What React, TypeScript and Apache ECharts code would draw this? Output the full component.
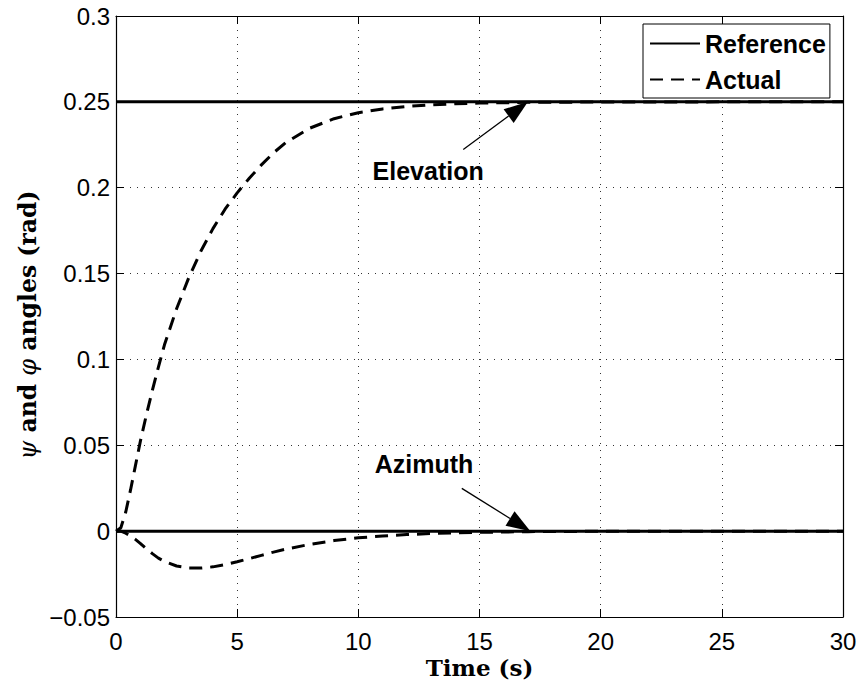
import React, { useEffect, useRef } from "react";
import * as echarts from "echarts";

// Simulation time base (s) shared by the measured responses
const timeSeconds = [
  0, 0.2, 0.4, 0.6, 0.8, 1, 1.25, 1.5, 1.75, 2, 2.5, 3, 3.5, 4, 4.5, 5, 5.5, 6,
  6.5, 7, 8, 9, 10, 11, 12, 13, 14, 15, 16, 17, 18, 20, 25, 30,
];

// Measured elevation angle psi (rad)
const elevationActual = [
  0, 0.002, 0.011, 0.024, 0.038, 0.052, 0.0675, 0.082, 0.0955, 0.1085, 0.1295,
  0.1475, 0.163, 0.1762, 0.1875, 0.197, 0.2055, 0.2133, 0.2203, 0.2262, 0.2347,
  0.2402, 0.2437, 0.2459, 0.2473, 0.2483, 0.2489, 0.2493, 0.2495, 0.2497,
  0.2498, 0.2499, 0.25, 0.25,
];

// Measured azimuth angle phi (rad)
const azimuthActual = [
  0, 0, -0.0012, -0.0028, -0.0048, -0.0071, -0.0102, -0.0131, -0.0157, -0.0177,
  -0.0203, -0.0214, -0.0215, -0.0208, -0.0195, -0.0178, -0.016, -0.0141,
  -0.0122, -0.0105, -0.0077, -0.0055, -0.0039, -0.0028, -0.002, -0.0014,
  -0.001, -0.0007, -0.0005, -0.0003, -0.0002, -0.0001, 0, 0,
];

// Set-points
const referenceTime = [0, 30];
const elevationReference = [0.25, 0.25];
const azimuthReference = [0, 0];

// Callouts: label centre, arrow tail and arrow tip, in data units (s, rad)
const callouts = [
  { label: "Elevation", at: [12.88, 0.2097], from: [14.33, 0.2223], to: [17.0, 0.25] },
  { label: "Azimuth", at: [12.71, 0.0391], from: [14.27, 0.0249], to: [17.1, 0.0] },
];

const SANS = "'Liberation Sans', Arial, Helvetica, sans-serif";
const SERIF = "'DejaVu Serif', 'Liberation Serif', serif";

const pairs = (xs: number[], ys: number[]) => xs.map((x, i) => [x, ys[i]]);

const fmtY = (v: number) => {
  const r = parseFloat(v.toFixed(3));
  return r < 0 ? "\u2212" + String(-r) : String(r);
};

export default function App() {
  const ref = useRef<HTMLDivElement>(null);

  useEffect(() => {
    if (!ref.current) return;
    const chart = echarts.init(ref.current, undefined, { renderer: "svg" });

    const gridSplit = {
      show: true,
      lineStyle: { color: "#333", width: 1, type: [1, 6] as any },
    };
    const tickInside = { show: true, inside: true, length: 8, lineStyle: { color: "#000", width: 1 } };
    const axisLine = { show: true, onZero: false, lineStyle: { color: "#000", width: 1.2 } };

    const solid = { color: "#000", width: 3, type: "solid" as const };
    const dashed = { color: "#000", width: 3, type: [13, 8] as any };

    chart.setOption({
      animation: false,
      backgroundColor: "#fff",
      grid: { left: 116, top: 16, right: 19, bottom: 72, containLabel: false },
      xAxis: [
        {
          type: "value",
          min: 0,
          max: 30,
          interval: 5,
          axisLine,
          axisTick: tickInside,
          splitLine: gridSplit,
          axisLabel: { color: "#000", fontSize: 24, lineHeight: 18, fontFamily: SANS, margin: 15 },
        },
        {
          type: "value",
          position: "top",
          min: 0,
          max: 30,
          interval: 5,
          axisLine,
          axisTick: tickInside,
          splitLine: { show: false },
          axisLabel: { show: false },
        },
      ],
      yAxis: [
        {
          type: "value",
          min: -0.05,
          max: 0.3,
          interval: 0.05,
          axisLine,
          axisTick: tickInside,
          splitLine: gridSplit,
          axisLabel: {
            color: "#000",
            fontSize: 24,
            fontFamily: SANS,
            margin: 6,
            formatter: fmtY,
          },
        },
        {
          type: "value",
          position: "right",
          min: -0.05,
          max: 0.3,
          interval: 0.05,
          axisLine,
          axisTick: tickInside,
          splitLine: { show: false },
          axisLabel: { show: false },
        },
      ],
      legend: {
        data: ["Reference", "Actual"],
        orient: "vertical",
        left: 643,
        top: 24,
        padding: [7, 4, 6, 6],
        itemGap: 11,
        itemWidth: 50,
        itemHeight: 14,
        backgroundColor: "#fff",
        borderColor: "#000",
        borderWidth: 1,
        borderRadius: 0,
        itemStyle: { color: "rgba(0,0,0,0)", borderColor: "rgba(0,0,0,0)", borderWidth: 0, opacity: 0 },
        textStyle: { color: "#000", fontSize: 25, fontWeight: "bold", fontFamily: SANS },
      },
      series: [
        {
          name: "Reference",
          type: "line",
          data: pairs(referenceTime, elevationReference),
          symbol: "none",
          lineStyle: solid,
          itemStyle: { color: "#000" },
        },
        {
          name: "Reference",
          type: "line",
          data: pairs(referenceTime, azimuthReference),
          symbol: "none",
          lineStyle: solid,
          itemStyle: { color: "#000" },
        },
        {
          name: "Actual",
          type: "line",
          data: pairs(timeSeconds, elevationActual),
          symbol: "none",
          lineStyle: dashed,
          itemStyle: { color: "#000" },
        },
        {
          name: "Actual",
          type: "line",
          data: pairs(timeSeconds, azimuthActual),
          symbol: "none",
          lineStyle: dashed,
          itemStyle: { color: "#000" },
        },
      ],
    });

    // Callout arrows and labels, placed through the axes' own scales
    const toPx = (p: number[]) =>
      chart.convertToPixel({ xAxisIndex: 0, yAxisIndex: 0 }, p) as number[];
    const graphics: any[] = [];
    const headLen = 24;
    const headHalf = 8.5;
    callouts.forEach((c) => {
      const s = toPx(c.from);
      const t = toPx(c.to);
      const c0 = toPx(c.at);
      const dx = t[0] - s[0];
      const dy = t[1] - s[1];
      const len = Math.hypot(dx, dy);
      const ux = dx / len;
      const uy = dy / len;
      const bx = t[0] - ux * headLen;
      const by = t[1] - uy * headLen;
      graphics.push({
        type: "line",
        shape: { x1: s[0], y1: s[1], x2: bx, y2: by },
        style: { stroke: "#000", lineWidth: 1.3 },
        z: 100,
      });
      graphics.push({
        type: "polygon",
        shape: {
          points: [
            [t[0], t[1]],
            [bx - uy * headHalf, by + ux * headHalf],
            [bx + uy * headHalf, by - ux * headHalf],
          ],
        },
        style: { fill: "#000" },
        z: 100,
      });
      graphics.push({
        type: "text",
        x: c0[0],
        y: c0[1],
        style: {
          text: c.label,
          fill: "#000",
          font: `bold 25px ${SANS}`,
          align: "center",
          verticalAlign: "middle",
        },
        z: 100,
      });
    });

    // Axis titles
    graphics.push({
      type: "text",
      x: 479.5,
      y: 667,
      style: {
        text: "Time (s)",
        fill: "#000",
        fontFamily: SERIF,
        fontSize: 23,
        fontWeight: "bold",
        lineHeight: 18,
        align: "center",
        verticalAlign: "middle",
      },
    });
    graphics.push({
      type: "text",
      x: 28,
      y: 325,
      rotation: Math.PI / 2,
      style: {
        text: "{i|\u03C8}{b| and }{i|\u03C6}{b| angles (rad)}",
        fill: "#000",
        align: "center",
        verticalAlign: "middle",
        rich: {
          i: { fontFamily: SERIF, fontSize: 24, fontStyle: "italic", fontWeight: "normal", fill: "#000" },
          b: { fontFamily: SERIF, fontSize: 23.5, fontWeight: "bold", fill: "#000" },
        },
      },
    });

    chart.setOption({ graphic: graphics });

    return () => chart.dispose();
  }, []);

  return (
    <div
      ref={ref}
      style={{ position: "fixed", left: 0, top: 0, width: 862, height: 689, background: "#fff" }}
    />
  );
}
